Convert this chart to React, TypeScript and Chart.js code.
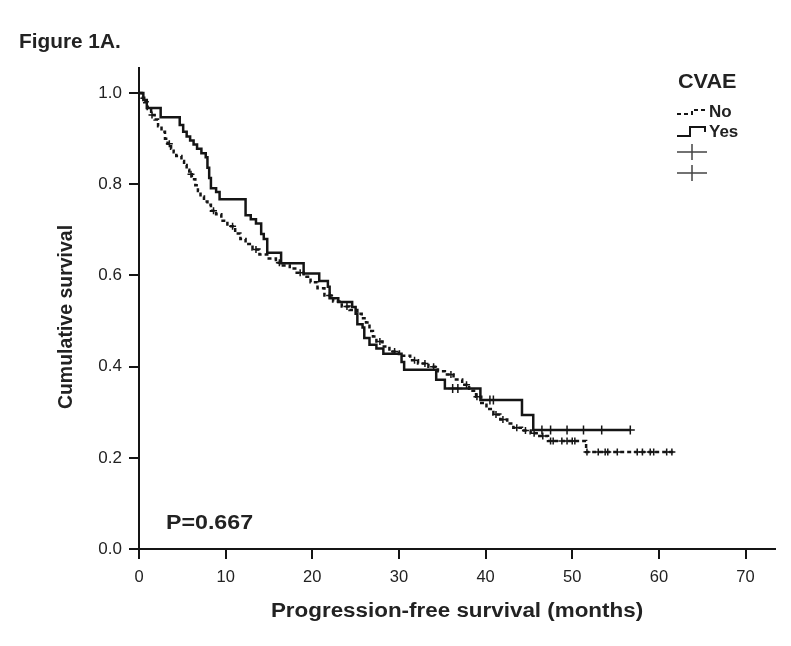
import React, { useEffect, useRef } from 'react';
import { Chart, registerables } from 'chart.js';

Chart.register(...registerables);

// ---- data ----
const xTickValues = [0, 10, 20, 30, 40, 50, 60, 70];
const yTickValues = [0, 0.2, 0.4, 0.6, 0.8, 1.0];

// CVAE = No : step times (months) and survival after each step
const noTimes = [0, 0.3, 0.6, 1.0, 1.4, 1.8, 2.2, 2.6, 3.0, 3.3, 3.7, 4.0, 4.3, 4.9, 5.2, 5.5, 5.8, 6.1, 6.5, 6.8, 7.1, 7.5, 7.9, 8.3, 8.9, 9.5, 10.2, 11.1, 11.7, 12.3, 13.1, 13.9, 14.8, 15.8, 16.6, 17.4, 18.2, 19.0, 19.8, 20.6, 21.4, 22.4, 23.4, 24.3, 25.2, 25.7, 26.2, 26.6, 27.0, 27.4, 28.1, 28.9, 30.0, 31.3, 32.2, 33.4, 34.5, 35.3, 36.3, 37.3, 38.1, 38.9, 39.5, 40.1, 40.9, 41.7, 42.5, 43.2, 44.2, 45.2, 46.2, 47.2, 51.6, 61.7];
const noSurv = [1.0, 0.99, 0.98, 0.965, 0.952, 0.942, 0.927, 0.915, 0.9, 0.889, 0.878, 0.87, 0.862, 0.851, 0.842, 0.832, 0.822, 0.811, 0.798, 0.785, 0.773, 0.762, 0.755, 0.742, 0.734, 0.72, 0.708, 0.692, 0.68, 0.669, 0.657, 0.646, 0.637, 0.628, 0.622, 0.615, 0.606, 0.597, 0.585, 0.572, 0.556, 0.543, 0.532, 0.524, 0.516, 0.506, 0.497, 0.478, 0.466, 0.455, 0.444, 0.433, 0.424, 0.414, 0.407, 0.4, 0.39, 0.383, 0.372, 0.36, 0.347, 0.334, 0.32, 0.307, 0.295, 0.284, 0.275, 0.266, 0.26, 0.254, 0.248, 0.237, 0.213, 0.213];
const noCensorTimes = [1.5, 3.5, 6.0, 8.6, 10.8, 13.5, 16.2, 18.6, 22.0, 24.0, 27.8, 29.5, 31.8, 33.0, 34.0, 36.0, 37.8, 39.0, 41.2, 42.0, 43.6, 44.6, 45.6, 46.6, 47.5, 47.8, 48.8, 49.4, 50.0, 50.3, 51.7, 53.0, 53.8, 54.1, 55.2, 57.5, 58.1, 59.0, 59.4, 60.9, 61.5];

// CVAE = Yes
const yesTimes = [0, 0.5, 0.9, 2.5, 4.7, 5.1, 5.5, 5.9, 6.3, 6.7, 7.2, 7.7, 7.9, 8.1, 8.3, 8.9, 9.3, 12.3, 12.9, 13.5, 14.1, 14.4, 14.8, 16.4, 19.0, 20.8, 21.8, 22.0, 23.0, 24.6, 25.0, 25.2, 25.8, 26.0, 26.6, 27.4, 28.2, 30.3, 30.6, 34.3, 35.3, 39.4, 44.2, 45.5, 56.7];
const yesSurv = [1.0, 0.985, 0.967, 0.947, 0.93, 0.915, 0.905, 0.896, 0.887, 0.878, 0.868, 0.859, 0.836, 0.814, 0.791, 0.783, 0.767, 0.732, 0.723, 0.714, 0.691, 0.68, 0.65, 0.627, 0.604, 0.588, 0.575, 0.55, 0.542, 0.531, 0.516, 0.493, 0.486, 0.463, 0.448, 0.44, 0.428, 0.41, 0.393, 0.371, 0.352, 0.327, 0.294, 0.261, 0.261];
const yesCensorTimes = [36.2, 36.8, 40.5, 40.9, 46.5, 47.5, 49.4, 51.3, 53.4, 56.7];

const INK = '#151515';
const FONT = '"Liberation Sans", Arial, Helvetica, sans-serif';

function survAt(times: number[], surv: number[], t: number): number {
  let s = surv[0];
  for (let i = 0; i < times.length; i++) {
    if (times[i] <= t) s = surv[i];
  }
  return s;
}

function pts(times: number[], surv: number[]) {
  return times.map((t, i) => ({ x: t, y: surv[i] }));
}

function drawText(
  ctx: CanvasRenderingContext2D,
  text: string,
  x: number,
  y: number,
  font: string,
  align: CanvasTextAlign,
  baseline: CanvasTextBaseline,
  sx = 1,
  rot = 0,
) {
  ctx.save();
  ctx.translate(x, y);
  if (rot) ctx.rotate(rot);
  ctx.scale(sx, 1);
  ctx.font = font;
  ctx.textAlign = align;
  ctx.textBaseline = baseline;
  ctx.fillText(text, 0, 0);
  ctx.restore();
}

const textPlugin = {
  id: 'figureText',
  afterDraw(chart: any) {
    const ctx = chart.ctx as CanvasRenderingContext2D;
    const ca = chart.chartArea;
    ctx.save();
    ctx.fillStyle = '#222';

    drawText(ctx, 'Figure 1A.', 19, 48, `bold 20px ${FONT}`, 'left', 'alphabetic', 1.04);

    // axis titles
    drawText(ctx, 'Progression-free survival (months)', (ca.left + ca.right) / 2, 611, `bold 20px ${FONT}`, 'center', 'middle', 1.12);
    drawText(ctx, 'Cumulative survival', 67, 317, `bold 19.5px ${FONT}`, 'center', 'middle', 1, -Math.PI / 2);

    // p-value
    drawText(ctx, 'P=0.667', 166, 529, `bold 20px ${FONT}`, 'left', 'alphabetic', 1.16);

    // legend
    drawText(ctx, 'CVAE', 678, 88, `bold 21px ${FONT}`, 'left', 'alphabetic', 1.03);
    drawText(ctx, 'No', 709, 117, `bold 17px ${FONT}`, 'left', 'alphabetic');
    drawText(ctx, 'Yes', 709, 137, `bold 17px ${FONT}`, 'left', 'alphabetic');

    ctx.strokeStyle = INK;
    ctx.lineWidth = 2;
    // No symbol: dashed step
    ctx.setLineDash([4, 3]);
    ctx.beginPath();
    ctx.moveTo(677, 114);
    ctx.lineTo(692, 114);
    ctx.lineTo(692, 110);
    ctx.lineTo(706, 110);
    ctx.stroke();
    ctx.setLineDash([]);
    // Yes symbol: solid step
    ctx.beginPath();
    ctx.moveTo(677, 136);
    ctx.lineTo(690, 136);
    ctx.lineTo(690, 127);
    ctx.lineTo(705, 127);
    ctx.lineTo(705, 132);
    ctx.stroke();
    // censor symbols
    ctx.lineWidth = 1.5;
    ctx.strokeStyle = '#444';
    [152, 173].forEach((cy) => {
      ctx.beginPath();
      ctx.moveTo(677, cy);
      ctx.lineTo(707, cy);
      ctx.moveTo(692, cy - 8);
      ctx.lineTo(692, cy + 8);
      ctx.stroke();
    });
    ctx.restore();
  },
};

export default function App() {
  const ref = useRef<HTMLCanvasElement | null>(null);

  useEffect(() => {
    if (!ref.current) return;
    const noCensor = noCensorTimes.map((t) => ({ x: t, y: survAt(noTimes, noSurv, t) }));
    const yesCensor = yesCensorTimes.map((t) => ({ x: t, y: survAt(yesTimes, yesSurv, t) }));

    const chart = new Chart(ref.current, {
      type: 'scatter',
      data: {
        datasets: [
          {
            label: 'No',
            data: pts(noTimes, noSurv),
            showLine: true,
            stepped: true,
            borderColor: INK,
            borderWidth: 2.5,
            borderDash: [4, 3],
            pointRadius: 0,
            fill: false,
          },
          {
            label: 'Yes',
            data: pts(yesTimes, yesSurv),
            showLine: true,
            stepped: true,
            borderColor: INK,
            borderWidth: 2.5,
            pointRadius: 0,
            fill: false,
          },
          {
            label: 'No censored',
            data: noCensor,
            showLine: false,
            pointStyle: 'cross',
            pointRadius: 3.5,
            pointBorderWidth: 1.5,
            pointBorderColor: INK,
            borderColor: INK,
          },
          {
            label: 'Yes censored',
            data: yesCensor,
            showLine: false,
            pointStyle: 'cross',
            pointRadius: 4.5,
            pointBorderWidth: 1.5,
            pointBorderColor: INK,
            borderColor: INK,
          },
        ],
      },
      options: {
        responsive: false,
        animation: false,
        devicePixelRatio: 1,
        layout: { padding: { left: 0, top: 68, right: 16, bottom: 0 } },
        plugins: {
          legend: { display: false },
          tooltip: { enabled: false },
          title: { display: false },
        },
        scales: {
          x: {
            type: 'linear',
            min: 0,
            max: 73.4,
            afterFit: (s: any) => {
              s.height = 97;
            },
            afterBuildTicks: (s: any) => {
              s.ticks = xTickValues.map((v) => ({ value: v }));
            },
            ticks: {
              color: '#222',
              font: { family: FONT, size: 16.5 },
              padding: 9,
              maxRotation: 0,
              callback: (v: any) => String(v),
            },
            grid: {
              display: true,
              drawOnChartArea: false,
              drawTicks: true,
              tickLength: 10,
              color: INK,
              lineWidth: 2,
            },
            border: { display: true, color: INK, width: 2 },
          },
          y: {
            type: 'linear',
            min: 0,
            max: 1.055,
            afterFit: (s: any) => {
              s.width = 139;
            },
            afterBuildTicks: (s: any) => {
              s.ticks = yTickValues.map((v) => ({ value: v }));
            },
            ticks: {
              color: '#222',
              font: { family: FONT, size: 17 },
              padding: 7,
              callback: (v: any) => Number(v).toFixed(1),
            },
            grid: {
              display: true,
              drawOnChartArea: false,
              drawTicks: true,
              tickLength: 10,
              color: INK,
              lineWidth: 2,
            },
            border: { display: true, color: INK, width: 2 },
          },
        },
      },
      plugins: [textPlugin],
    });
    return () => chart.destroy();
  }, []);

  return (
    <div style={{ position: 'absolute', left: 0, top: 0, width: 791, height: 646, background: '#fff' }}>
      <canvas ref={ref} width={791} height={646} />
    </div>
  );
}
